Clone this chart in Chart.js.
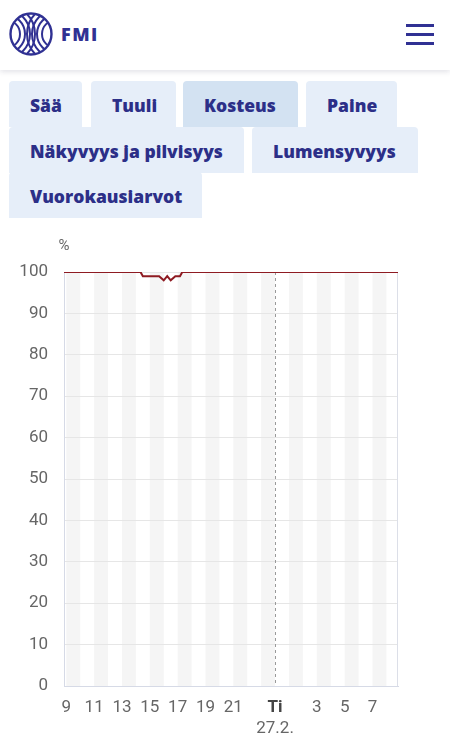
<!DOCTYPE html>
<html lang="fi">
<head>
<meta charset="utf-8">
<title>Kosteus</title>
<script src="https://cdn.jsdelivr.net/npm/chart.js@4.4.0/dist/chart.umd.min.js"></script>
<style>
  html, body { margin: 0; padding: 0; background: #fff; }
  body { width: 450px; height: 752px; overflow: hidden; position: relative; font-family: "Open Sans", "Noto Sans", sans-serif; }
  header { position: absolute; left: 0; top: 0; width: 450px; height: 70px; background: #fff; box-shadow: 0 2px 5px rgba(40, 40, 80, 0.13); z-index: 2; }
  .logo { position: absolute; left: 8px; top: 11px; }
  .brand { position: absolute; left: 61px; top: 22px; font-size: 18px; font-weight: 800; letter-spacing: 1.5px; color: #303193; }
  .menu { position: absolute; left: 406px; top: 24px; width: 28px; }
  .menu span { display: block; height: 2.5px; background: #303193; margin-bottom: 6.5px; }
  .tab { position: absolute; height: 46px; line-height: 49px; overflow: hidden; padding-left: 21px; box-sizing: border-box; background: #e6eef9; color: #2c2f88; font-size: 17.5px; font-weight: 800; border-radius: 4px 4px 0 0; white-space: nowrap; }
  .tab.active { background: #d3e2f2; }
  #chartBox { position: absolute; left: 0; top: 228px; width: 450px; height: 524px; }
</style>
</head>
<body>
<header>
  <svg class="logo" width="46" height="46" viewBox="0 0 46 46">
    <defs><clipPath id="c"><circle cx="23" cy="23" r="20.5"/></clipPath></defs>
    <g fill="none" stroke="#303193" stroke-width="2" clip-path="url(#c)">
      <circle cx="-2" cy="23" r="14"/><circle cx="-2" cy="23" r="19"/><circle cx="-2" cy="23" r="24"/><circle cx="-2" cy="23" r="29"/>
      <circle cx="48" cy="23" r="14"/><circle cx="48" cy="23" r="19"/><circle cx="48" cy="23" r="24"/><circle cx="48" cy="23" r="29"/>
    </g>
    <circle cx="23" cy="23" r="20.5" fill="none" stroke="#303193" stroke-width="2.4"/>
  </svg>
  <div class="brand">FMI</div>
  <div class="menu"><span></span><span></span><span></span></div>
</header>

<div class="tab" style="left:9px;top:81px;width:73px">Sää</div>
<div class="tab" style="left:91px;top:81px;width:85px">Tuuli</div>
<div class="tab active" style="left:183px;top:81px;width:115px">Kosteus</div>
<div class="tab" style="left:306px;top:81px;width:91px">Paine</div>
<div class="tab" style="left:9px;top:127px;width:235px">Näkyvyys ja pilvisyys</div>
<div class="tab" style="left:252px;top:127px;width:166px">Lumensyvyys</div>
<div class="tab" style="left:9px;top:172px;width:193px">Vuorokausiarvot</div>

<div id="chartBox"><canvas id="humidityChart"></canvas></div>

<script>
// relative humidity (%), 26.2. 08:50 -> 27.2. 08:50
const obsTimes = ['08:50', '09:00', '10:00', '11:00', '12:00', '13:00', '14:00', '14:20', '14:30', '15:00',
  '15:40', '16:00', '16:15', '16:30', '16:50', '17:10', '17:20', '18:00', '19:00', '20:00', '21:00',
  '22:00', '23:00', '00:00', '01:00', '02:00', '03:00', '04:00', '05:00', '06:00', '07:00', '08:00', '08:50'];
const humidity = [100, 100, 100, 100, 100, 100, 100, 100, 99, 99,
  99, 98, 99, 98, 99, 99, 100, 100, 100, 100, 100,
  100, 100, 100, 100, 100, 100, 100, 100, 100, 100, 100, 100];

const yTicks = [0, 10, 20, 30, 40, 50, 60, 70, 80, 90, 100];
const xTickHours = [9, 11, 13, 15, 17, 19, 21, 24, 27, 29, 31];
const dayName = 'Ti';
const dateText = '27.2.';
const unitText = '%';

// times -> hours since start of first day (roll over at midnight)
let dayOffset = 0;
let prevHour = -1;
const hours = obsTimes.map(t => {
  const [h, m] = t.split(':').map(Number);
  let v = h + m / 60 + dayOffset;
  if (v < prevHour) { dayOffset += 24; v += 24; }
  prevHour = v;
  return v;
});
const xMin = hours[0];
const xMax = hours[hours.length - 1];
const midnight = 24;

const points = hours.map((h, i) => ({ x: h, y: humidity[i] }));

const stripes = {
  id: 'stripes',
  beforeDraw(chart) {
    const { ctx, chartArea: a, scales: { x } } = chart;
    ctx.save();
    ctx.fillStyle = '#f5f5f5';
    for (let h = 9; h < xMax; h += 2) {
      const x0 = Math.max(x.getPixelForValue(h), a.left);
      const x1 = Math.min(x.getPixelForValue(h + 1), a.right);
      ctx.fillRect(x0, a.top, x1 - x0, a.bottom - a.top);
    }
    ctx.restore();
  },
  beforeDatasetsDraw(chart) {
    const { ctx, chartArea: a, scales: { x } } = chart;
    ctx.save();
    // day change
    const mx = Math.round(x.getPixelForValue(midnight)) + 0.5;
    ctx.strokeStyle = '#9a9a9a';
    ctx.lineWidth = 1;
    ctx.setLineDash([3, 3]);
    ctx.beginPath();
    ctx.moveTo(mx, a.top);
    ctx.lineTo(mx, a.bottom);
    ctx.stroke();
    // right edge of the plot
    ctx.setLineDash([]);
    ctx.strokeStyle = '#dcdfe8';
    ctx.beginPath();
    ctx.moveTo(Math.round(a.right) - 0.5, a.top);
    ctx.lineTo(Math.round(a.right) - 0.5, a.bottom);
    ctx.stroke();
    ctx.restore();
  },
  afterDraw(chart) {
    const { ctx, chartArea: a } = chart;
    ctx.save();
    ctx.font = '15px Roboto';
    ctx.fillStyle = '#666';
    ctx.textAlign = 'center';
    ctx.textBaseline = 'middle';
    ctx.fillText(unitText, a.left, a.top - 26);
    ctx.restore();
  }
};

new Chart(document.getElementById('humidityChart'), {
  type: 'line',
  data: {
    datasets: [{
      data: points,
      borderColor: '#8e1b22',
      borderWidth: 2,
      pointRadius: 0,
      tension: 0,
      xAxisID: 'x'
    }]
  },
  options: {
    responsive: true,
    maintainAspectRatio: false,
    animation: false,
    layout: { padding: { top: 44, right: 52, bottom: 0, left: 0 } },
    plugins: { legend: { display: false }, tooltip: { enabled: false } },
    scales: {
      x: {
        type: 'linear',
        min: xMin,
        max: xMax,
        grid: { display: false, drawTicks: false },
        border: { display: true, color: '#d6dae6' },
        afterBuildTicks: s => { s.ticks = xTickHours.map(v => ({ value: v })); },
        afterFit: s => { s.height = 32; },
        ticks: {
          padding: 12,
          maxRotation: 0,
          autoSkip: false,
          color: ctx => ctx.tick && ctx.tick.value === midnight ? '#444' : '#666',
          font: ctx => ({ family: 'Roboto', size: 17, weight: ctx.tick && ctx.tick.value === midnight ? 'bold' : 'normal' }),
          callback: v => v === midnight ? dayName : String(v % 24)
        }
      },
      x2: {
        type: 'linear',
        position: 'bottom',
        weight: 1,
        min: xMin,
        max: xMax,
        grid: { display: false, drawTicks: false },
        border: { display: false },
        afterBuildTicks: s => { s.ticks = [{ value: midnight }]; },
        afterFit: s => { s.height = 34; },
        ticks: {
          padding: 1,
          maxRotation: 0,
          autoSkip: false,
          color: '#666',
          font: { family: 'Roboto', size: 17 },
          callback: () => dateText
        }
      },
      y: {
        min: 0,
        max: 100,
        grid: { color: '#e6e6e6', drawTicks: false },
        border: { display: true, color: '#d6dae6' },
        afterBuildTicks: s => { s.ticks = yTicks.map(v => ({ value: v })); },
        afterFit: s => { s.width = 64; },
        ticks: {
          padding: 16,
          color: '#666',
          font: { family: 'Roboto', size: 17 }
        }
      }
    }
  },
  plugins: [stripes]
});
</script>
</body>
</html>
